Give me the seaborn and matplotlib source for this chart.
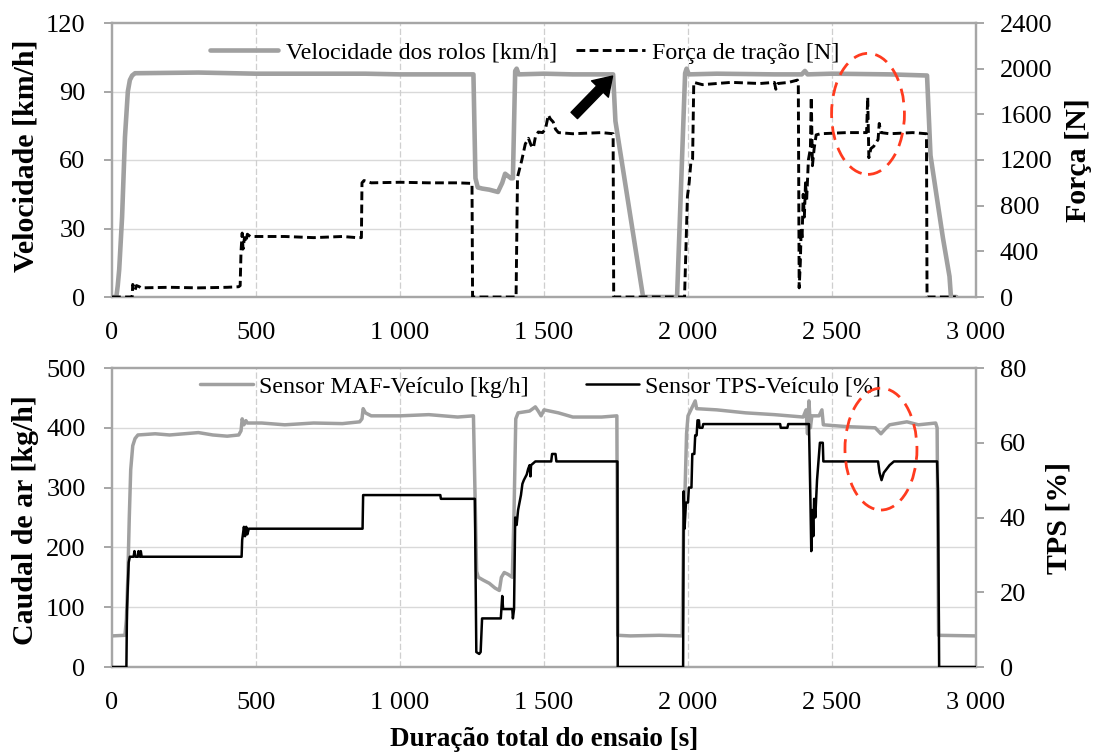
import numpy as np
import pandas as pd
import seaborn as sns
import matplotlib
matplotlib.use("Agg")
import matplotlib.pyplot as plt
from matplotlib.lines import Line2D
from matplotlib.patches import Ellipse
from matplotlib.ticker import FuncFormatter

# ---------------- data ----------------
# Roller speed [km/h]
vel_t = [0, 15, 20, 25, 35, 45, 55, 62, 70, 80, 300, 500, 880, 1000, 1255,
         1262, 1270, 1285, 1310, 1340, 1355, 1365, 1375, 1385, 1392, 1400, 1405,
         1412, 1500, 1600, 1740, 1748, 1844, 1962, 1990, 1995, 2003, 2100, 2300,
         2395, 2406, 2415, 2500, 2700, 2830, 2842, 2885, 2908, 2913, 2932]
vel_v = [0, 0, 5, 12, 35, 70, 90, 95, 97, 98, 98.3, 97.8, 97.8, 97.5, 97.5,
         52, 48, 47.5, 47, 46, 50, 54, 53, 52, 52, 99, 100,
         97.5, 97.8, 97.5, 97.5, 77, 0, 0, 98, 100, 97.5, 97.8, 97.5,
         97.5, 99, 97.5, 97.8, 97.5, 97, 62, 26, 9, 0, 0]

# Traction force [N]
force_t = [0, 68, 70, 72, 80, 85, 95, 100, 200, 300, 400, 440, 445, 448, 452,
           455, 460, 465, 470, 480, 600, 700, 800, 850, 866, 868, 875, 900,
           1000, 1100, 1200, 1250, 1252, 1403, 1408, 1423, 1435, 1446, 1455,
           1463, 1470, 1480, 1495, 1505, 1515, 1522, 1532, 1540, 1550, 1600,
           1700, 1740, 1742, 1988, 1998, 2004, 2010, 2016, 2020, 2050, 2150,
           2250, 2300, 2305, 2312, 2350, 2380, 2383, 2386, 2390, 2393, 2396,
           2400, 2404, 2408, 2412, 2418, 2425, 2428, 2432, 2438, 2445, 2460,
           2550, 2620, 2624, 2628, 2635, 2645, 2650, 2660, 2664, 2670, 2700,
           2780, 2828, 2830, 2930]
force_v = [0, 0, 0, 110, 60, 100, 90, 80, 85, 80, 85, 90, 100, 400, 560,
           420, 520, 480, 550, 530, 530, 520, 530, 520, 520, 1000, 1020, 1000,
           1005, 1000, 1000, 995, 0, 0, 1050, 1200, 1340, 1390, 1330,
           1305, 1400, 1445, 1440, 1470, 1594, 1560, 1533, 1470, 1440, 1430,
           1440, 1430, 0, 0, 880, 1000, 1180, 1210, 1880, 1860, 1880,
           1870, 1880, 1820, 1870, 1880, 1900, 1880, 80, 300, 600, 500,
           900, 700, 1000, 850, 1200, 1300, 1750, 1150, 1300, 1420, 1430,
           1440, 1440, 1750, 1220, 1300, 1320, 1340, 1380, 1520, 1440, 1430,
           1440, 1430, 0, 0]

# Air mass flow [kg/h]
maf_t = [0, 45, 50, 55, 60, 65, 72, 80, 90, 150, 200, 250, 300, 350, 400,
         440, 448, 452, 458, 465, 470, 520, 600, 700, 800, 860, 868, 872, 880,
         900, 1000, 1100, 1200, 1255, 1260, 1266, 1272, 1290, 1310, 1330,
         1345, 1352, 1362, 1375, 1390, 1396, 1402, 1410, 1450, 1470, 1480,
         1490, 1500, 1550, 1600, 1700, 1753, 1756, 1800, 1900, 1980, 1985,
         1990, 1995, 2000, 2010, 2025, 2030, 2100, 2200, 2300, 2400, 2410,
         2415, 2420, 2425, 2430, 2455, 2465, 2470, 2550, 2650, 2670, 2685,
         2700, 2760, 2800, 2860, 2865, 2870, 3000]
maf_v = [52, 53, 80, 150, 250, 330, 370, 382, 388, 390, 388, 390, 392, 388, 386,
         388, 395, 415, 405, 412, 408, 408, 405, 408, 407, 410, 415, 432, 425,
         420, 420, 422, 418, 420, 300, 160, 150, 145, 140, 132,
         128, 150, 158, 155, 150, 260, 415, 425, 428, 435, 428,
         420, 430, 425, 418, 418, 420, 53, 52, 53, 52, 250,
         300, 390, 420, 430, 445, 432, 430, 425, 422, 418, 430,
         390, 445, 400, 420, 420, 430, 405, 402, 400, 390, 398,
         405, 410, 405, 408, 400, 53, 52]

# Throttle position [%]
tps_t = [0, 50, 52, 55, 58, 62, 75, 78, 82, 90, 92, 97, 100, 103, 450, 452,
         458, 462, 466, 470, 475, 870, 872, 1140, 1142, 1260, 1265, 1275, 1280,
         1285, 1350, 1355, 1358, 1390, 1392, 1396, 1400, 1405, 1410, 1420, 1425,
         1430, 1440, 1445, 1450, 1453, 1455, 1470, 1525, 1528, 1540, 1543, 1755,
         1756, 1983, 1985, 1988, 1993, 2000, 2003, 2012, 2015, 2022, 2025, 2030,
         2033, 2038, 2040, 2050, 2053, 2320, 2322, 2345, 2348, 2420, 2425, 2428,
         2432, 2435, 2438, 2442, 2448, 2455, 2458, 2468, 2470, 2660, 2665, 2672,
         2680, 2690, 2700, 2715, 2865, 2868, 2872, 3000]
tps_v = [0, 0, 15, 22, 28, 29.5, 29.5, 31, 29.5, 29.5, 31, 29.5, 31, 29.5, 29.5, 34,
         37.5, 35, 37.5, 35.5, 37, 37, 46, 46, 45, 45, 4, 3.5, 4,
         13, 13, 19, 15.5, 15.5, 13, 15.5, 40, 38, 42, 46, 49,
         50, 51.5, 53, 54, 51, 54, 55, 55, 57, 57, 55, 55,
         0, 0, 47, 37, 44, 44, 48, 48, 57, 57, 62, 62,
         66, 66, 64, 64, 65, 65, 64, 64, 65, 65, 45, 31,
         42, 35, 45, 40, 50, 57, 60, 60, 55, 55, 52, 50,
         52, 53, 54, 55, 55, 47, 0, 0]

x_ticks = [0, 500, 1000, 1500, 2000, 2500, 3000]

# ---------------- style ----------------
sns.set_style("white")
plt.rcParams["font.family"] = ["Liberation Serif", "DejaVu Serif"]
plt.rcParams["text.color"] = "black"
plt.rcParams["axes.labelcolor"] = "black"

GRAY_LINE = "#a0a0a0"
SPINE = "#a6a6a6"
GRID = "#d9d9d9"
RED = "#ff3b1f"
TICK_FS = 19
LABEL_FS = 21.5
XLABEL_FS = 19.5
LEG_FS = 17.3

W, H = 1097, 755
fig = plt.figure(figsize=(W / 100, H / 100), dpi=100)
ax_top = fig.add_axes([112 / W, 1 - 297 / H, 864 / W, 274 / H])
ax_bot = fig.add_axes([112 / W, 1 - 667 / H, 864 / W, 299 / H])


def thousands(v, pos):
    return f"{int(round(v)):,}".replace(",", " ")


def style_pair(ax, ax2, ylim, yticks, ylim2, yticks2):
    ax.set_xlim(0, 3000)
    ax.set_ylim(*ylim)
    ax.set_yticks(yticks)
    ax2.set_ylim(*ylim2)
    ax2.set_yticks(yticks2)
    ax.set_xticks(x_ticks)
    ax.xaxis.set_major_formatter(FuncFormatter(thousands))
    for a in (ax, ax2):
        for sp in a.spines.values():
            sp.set_color(SPINE)
            sp.set_linewidth(1.6)
    ax.tick_params(axis="both", which="major", direction="out", length=6,
                   width=1.4, color=SPINE, labelsize=TICK_FS, labelcolor="black")
    ax.tick_params(axis="x", pad=12)
    ax.tick_params(axis="y", pad=13, left=True)
    ax2.tick_params(axis="y", direction="out", length=6, width=1.4, color=SPINE,
                    labelsize=TICK_FS, labelcolor="black", pad=11, right=True)
    ax.grid(False)
    ax2.grid(False)
    for y in yticks[1:-1]:
        ax.axhline(y, color=GRID, lw=1.0, zorder=0)
    for x in x_ticks[1:-1]:
        ax.axvline(x, color="#cfcfcf", lw=0.9, ls=(0, (5, 2)), zorder=0)


# ---------------- top panel: speed and force ----------------
vel_df = pd.DataFrame({"t": vel_t, "v": vel_v})
force_df = pd.DataFrame({"t": force_t, "f": force_v})

sns.lineplot(data=vel_df, x="t", y="v", ax=ax_top, estimator=None, sort=False,
             color=GRAY_LINE, lw=3.3, legend=False, zorder=3)
ax_top2 = ax_top.twinx()
sns.lineplot(data=force_df, x="t", y="f", ax=ax_top2, estimator=None, sort=False,
             color="black", lw=2.1, linestyle=(0, (3, 1.5)), legend=False, zorder=3)

style_pair(ax_top, ax_top2, (0, 120), [0, 30, 60, 90, 120],
           (0, 2400), [0, 400, 800, 1200, 1600, 2000, 2400])
ax_top.set_xlabel("")
ax_top.set_ylabel("Velocidade [km/h]", fontsize=LABEL_FS, fontweight="bold", color="black")
ax_top.yaxis.set_label_coords(-72 / 864, 0.515)
ax_top2.set_ylabel("Força [N]", fontsize=LABEL_FS, fontweight="bold", color="black")
ax_top2.yaxis.set_label_coords(1.103, 0.5)

ax_top2.add_patch(Ellipse((2625, 1604), 253, 1060, fill=False, edgecolor=RED,
                          lw=2.0, ls=(0, (5, 3)), zorder=6))
ax_top2.annotate("", xy=(1738, 1935), xytext=(1605, 1590),
                 arrowprops=dict(arrowstyle="simple,head_width=1.3,head_length=1.0,tail_width=0.5",
                                 color="black", mutation_scale=13, shrinkA=0, shrinkB=0),
                 zorder=7)

top_handles = [Line2D([], [], color=GRAY_LINE, lw=3.3),
               Line2D([], [], color="black", lw=2.1, ls=(0, (3, 1.5)))]
ax_top2.legend(top_handles, ["Velocidade dos rolos [km/h]", "Força de tração [N]"],
               ncol=2, frameon=False, fontsize=LEG_FS, handlelength=2.85,
               handletextpad=0.3, columnspacing=0.8, borderpad=0,
               loc="upper left", bbox_to_anchor=(198 / W, 1 - 30 / H),
               bbox_transform=fig.transFigure, labelcolor="black")

# ---------------- bottom panel: air flow and throttle ----------------
maf_df = pd.DataFrame({"t": maf_t, "m": maf_v})
tps_df = pd.DataFrame({"t": tps_t, "p": tps_v})

sns.lineplot(data=maf_df, x="t", y="m", ax=ax_bot, estimator=None, sort=False,
             color=GRAY_LINE, lw=2.5, legend=False, zorder=3)
ax_bot2 = ax_bot.twinx()
sns.lineplot(data=tps_df, x="t", y="p", ax=ax_bot2, estimator=None, sort=False,
             color="black", lw=1.8, legend=False, zorder=3)

style_pair(ax_bot, ax_bot2, (0, 500), [0, 100, 200, 300, 400, 500],
           (0, 80), [0, 20, 40, 60, 80])
ax_bot.set_xlabel("Duração total do ensaio [s]", fontsize=XLABEL_FS, fontweight="bold",
                  va="center", color="black")
ax_bot.xaxis.set_label_coords(0.5, -73 / 299)
ax_bot.set_ylabel("Caudal de ar [kg/h]", fontsize=LABEL_FS, fontweight="bold", color="black")
ax_bot.yaxis.set_label_coords(-73 / 864, 0.49)
ax_bot2.set_ylabel("TPS [%]", fontsize=LABEL_FS, fontweight="bold", color="black")
ax_bot2.yaxis.set_label_coords(1.08, 0.5)

ax_bot2.add_patch(Ellipse((2670, 58.3), 250, 32.6, fill=False, edgecolor=RED,
                          lw=2.0, ls=(0, (5, 3)), zorder=6))

bot_handles = [Line2D([], [], color=GRAY_LINE, lw=2.5),
               Line2D([], [], color="black", lw=1.8)]
ax_bot2.legend(bot_handles, ["Sensor MAF-Veículo [kg/h]", "Sensor TPS-Veículo [%]"],
               ncol=2, frameon=False, fontsize=LEG_FS, handlelength=2.2,
               handletextpad=0.25, columnspacing=2.4, borderpad=0,
               loc="upper left", bbox_to_anchor=(188 / W, 1 - 364 / H),
               bbox_transform=fig.transFigure, labelcolor="black")

fig.savefig("out.png", dpi=100)
